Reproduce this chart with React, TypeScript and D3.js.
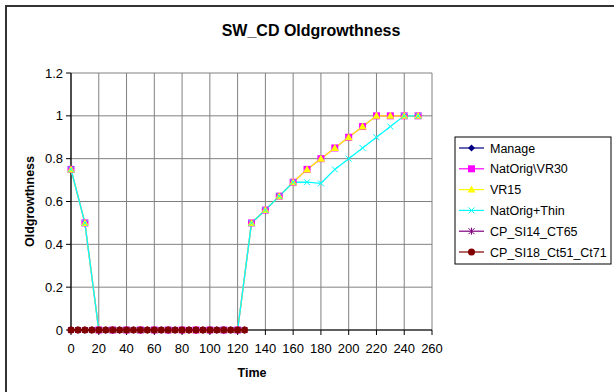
import React from "react";
import * as d3 from "d3";

const title = "SW_CD Oldgrowthness";
const xTicks = [0, 20, 40, 60, 80, 100, 120, 140, 160, 180, 200, 220, 240, 260];
const yTicks = [0, 0.2, 0.4, 0.6, 0.8, 1, 1.2];
const yTickLabels = ["0", "0.2", "0.4", "0.6", "0.8", "1", "1.2"];

const zeroTimes = [0,5,10,15,20,25,30,35,40,45,50,55,60,65,70,75,80,85,90,95,100,105,110,115,120,125];
const zeroValues = [0,0,0,0,0,0,0,0,0,0,0,0,0,0,0,0,0,0,0,0,0,0,0,0,0,0];

const natTimes = [0,10,20,30,40,50,60,70,80,90,100,110,120,130,140,150,160,170,180,190,200,210,220,230,240,250];
const natVR30 = [0.75,0.5,0,0,0,0,0,0,0,0,0,0,0,0.5,0.56,0.625,0.69,0.75,0.8,0.85,0.9,0.95,1,1,1,1];
const vr15 = [0.75,0.5,0,0,0,0,0,0,0,0,0,0,0,0.5,0.56,0.625,0.69,0.75,0.8,0.85,0.9,0.95,1,1,1,1];
const natThin = [0.75,0.5,0,0,0,0,0,0,0,0,0,0,0,0.5,0.56,0.625,0.69,0.69,0.685,0.75,0.8,0.85,0.9,0.95,1,1];

type Series = { name: string; color: string; marker: string; times: number[]; values: number[] };

const series: Series[] = [
  { name: "Manage", color: "#000080", marker: "diamond", times: zeroTimes, values: zeroValues },
  { name: "NatOrig\\VR30", color: "#FF00FF", marker: "square", times: natTimes, values: natVR30 },
  { name: "VR15", color: "#FFFF00", marker: "triangle", times: natTimes, values: vr15 },
  { name: "NatOrig+Thin", color: "#00FFFF", marker: "x", times: natTimes, values: natThin },
  { name: "CP_SI14_CT65", color: "#800080", marker: "star", times: zeroTimes, values: zeroValues },
  { name: "CP_SI18_Ct51_Ct71", color: "#800000", marker: "circle", times: zeroTimes, values: zeroValues },
];

function Marker({ type, x, y, color }: { type: string; x: number; y: number; color: string }) {
  switch (type) {
    case "diamond":
      return <path d={`M${x},${y - 3.5}L${x + 3.5},${y}L${x},${y + 3.5}L${x - 3.5},${y}Z`} fill={color} />;
    case "square":
      return <rect x={x - 3.5} y={y - 3.5} width={7} height={7} fill={color} />;
    case "triangle":
      return <path d={`M${x},${y - 4}L${x + 4},${y + 3}L${x - 4},${y + 3}Z`} fill={color} />;
    case "x":
      return (
        <path d={`M${x - 3},${y - 3}L${x + 3},${y + 3}M${x - 3},${y + 3}L${x + 3},${y - 3}`} stroke={color} strokeWidth={1} fill="none" />
      );
    case "star":
      return (
        <path
          d={`M${x - 3},${y - 3}L${x + 3},${y + 3}M${x - 3},${y + 3}L${x + 3},${y - 3}M${x},${y - 3.5}L${x},${y + 3.5}`}
          stroke={color}
          strokeWidth={1}
          fill="none"
        />
      );
    case "circle":
      return <circle cx={x} cy={y} r={3.5} fill={color} />;
    default:
      return null;
  }
}

export default function App() {
  const W = 614;
  const H = 392;
  const x = d3.scaleLinear().domain([0, 260]).range([71, 432]);
  const y = d3.scaleLinear().domain([0, 1.2]).range([330, 73]);
  const line = d3
    .line<[number, number]>()
    .x((d) => x(d[0]))
    .y((d) => y(d[1]));

  const font = "Arial, 'Liberation Sans', Helvetica, sans-serif";
  const legendX = 455;
  const legendY = 137;
  const legendRowH = 20.8;

  return (
    <svg
      width={W}
      height={H}
      style={{ position: "absolute", left: 0, top: 0, background: "#fff" }}
      fontFamily={font}
    >
      <rect x={0} y={0} width={W} height={H} fill="#fff" />
      <rect x={6} y={6} width={W + 20} height={H + 20} fill="none" stroke="#333" strokeWidth={2} />

      <text x={311} y={36} textAnchor="middle" fontSize={16} fontWeight="bold" fill="#000">
        {title}
      </text>

      {yTicks.map((t) => (
        <line key={"gy" + t} x1={x(0)} x2={x(260)} y1={y(t)} y2={y(t)} stroke="#808080" strokeWidth={1} />
      ))}
      {xTicks.map((t) => (
        <line key={"gx" + t} x1={x(t)} x2={x(t)} y1={y(0)} y2={y(1.2)} stroke="#808080" strokeWidth={1} />
      ))}

      <line x1={x(0)} x2={x(0)} y1={y(0)} y2={y(1.2)} stroke="#000" strokeWidth={1.2} />
      <line x1={x(0)} x2={x(260)} y1={y(0)} y2={y(0)} stroke="#000" strokeWidth={1.2} />
      {yTicks.map((t, i) => (
        <g key={"ty" + t}>
          <line x1={x(0) - 5} x2={x(0)} y1={y(t)} y2={y(t)} stroke="#000" />
          <text x={x(0) - 8} y={y(t) + 4.5} textAnchor="end" fontSize={13} fill="#000">
            {yTickLabels[i]}
          </text>
        </g>
      ))}
      {xTicks.map((t) => (
        <g key={"tx" + t}>
          <line x1={x(t)} x2={x(t)} y1={y(0)} y2={y(0) + 5} stroke="#000" />
          <text x={x(t)} y={y(0) + 23} textAnchor="middle" fontSize={13} fill="#000">
            {t}
          </text>
        </g>
      ))}

      <text x={252} y={377} textAnchor="middle" fontSize={12.5} fontWeight="bold" fill="#000">
        Time
      </text>
      <text
        transform={`translate(34,${y(0.6)}) rotate(-90)`}
        textAnchor="middle"
        fontSize={12.5}
        fontWeight="bold"
        fill="#000"
      >
        Oldgrowthness
      </text>

      {series.map((s) => (
        <path
          key={"l" + s.name}
          d={line(s.times.map((t, i) => [t, s.values[i]] as [number, number])) || ""}
          fill="none"
          stroke={s.color}
          strokeWidth={1.3}
        />
      ))}
      {series.map((s) => (
        <g key={"m" + s.name}>
          {s.times.map((t, i) => (
            <Marker key={i} type={s.marker} x={x(t)} y={y(s.values[i])} color={s.color} />
          ))}
        </g>
      ))}

      <rect x={legendX} y={legendY} width={156} height={127} fill="#fff" stroke="#000" strokeWidth={1} />
      {series.map((s, i) => {
        const cy = legendY + 11 + i * legendRowH;
        return (
          <g key={"lg" + s.name}>
            <line x1={legendX + 4} x2={legendX + 29} y1={cy} y2={cy} stroke={s.color} strokeWidth={1.2} />
            <Marker type={s.marker} x={legendX + 16.5} y={cy} color={s.color} />
            <text x={legendX + 35} y={cy + 4.5} fontSize={12.5} fill="#000">
              {s.name}
            </text>
          </g>
        );
      })}
    </svg>
  );
}
